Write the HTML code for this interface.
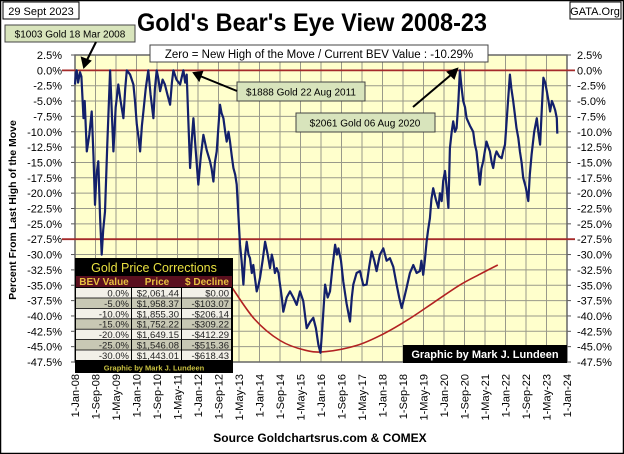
<!DOCTYPE html>
<html><head><meta charset="utf-8"><style>
html,body{margin:0;padding:0;background:#fff;}
svg{display:block;font-family:"Liberation Sans",sans-serif;}
</style></head><body>
<svg id="chart" width="624" height="454" viewBox="0 0 624 454">
<rect x="0.5" y="0.5" width="623" height="453" fill="#fff" stroke="#000" stroke-width="1.5"/>
<g id="plot"></g>
<text x="312" y="31" text-anchor="middle" font-size="25" font-weight="bold" fill="#000" textLength="350" lengthAdjust="spacingAndGlyphs">Gold's Bear's Eye View 2008-23</text>
<rect x="3" y="2" width="76" height="17" fill="#fff" stroke="#000"/>
<text x="41" y="15" text-anchor="middle" font-size="11">29 Sept 2023</text>
<rect x="570" y="2" width="51" height="17" fill="#fff" stroke="#000"/>
<text x="595" y="15" text-anchor="middle" font-size="11">GATA.Org</text>
<rect x="5" y="25" width="130" height="17" fill="#d8e4bc" stroke="#444"/>
<text x="70" y="37.5" text-anchor="middle" font-size="10">$1003 Gold 18 Mar 2008</text>
<rect x="150" y="45" width="338" height="17" fill="#fff" stroke="#444"/>
<text x="319" y="58" text-anchor="middle" font-size="11.5">Zero = New High of the Move / Current  BEV Value : -10.29%</text>
<rect x="237" y="82" width="128" height="19" fill="#d8e4bc" stroke="#444"/>
<text x="301" y="95.5" text-anchor="middle" font-size="10">$1888 Gold 22 Aug 2011</text>
<rect x="296" y="113" width="139" height="19" fill="#d8e4bc" stroke="#444"/>
<text x="365" y="126.5" text-anchor="middle" font-size="10">$2061 Gold 06 Aug 2020</text>
<g stroke="#000" stroke-width="2" fill="#000">
<line x1="96" y1="42" x2="86" y2="62"/><polygon points="84,67 82,58 90,61"/>
<line x1="237" y1="91" x2="200" y2="76"/><polygon points="194,73 202,72 199,80"/>
<line x1="413" y1="107" x2="452" y2="74"/><polygon points="457,69 454,78 448,72"/>
</g>
<text transform="translate(16,210) rotate(-90)" text-anchor="middle" font-size="10.5" font-weight="bold">Percent  From Last High of the Move</text>
<g id="table"></g>
<rect x="403" y="345" width="164" height="18" fill="#000"/>
<text x="485" y="358" text-anchor="middle" font-size="11" font-weight="bold" fill="#fff">Graphic by Mark J. Lundeen</text>
<text x="320" y="442" text-anchor="middle" font-size="12" font-weight="bold">Source Goldchartsrus.com &amp; COMEX</text>
</svg>
<script>
const months=[0,0.3,0.65,1.2,1.95,2.5,3.3,3.8,4.6,5.6,6.5,7.2,7.8,8.4,9.1,9.8,10.4,11,11.7,12.6,13.7,14.3,15,15.9,16.9,17.8,18.9,19.6,20.2,21.5,22.8,23.4,24.1,24.8,25.4,26.1,26.7,27.6,28.6,29.5,30.6,31.2,31.9,32.6,33.2,34.2,35.1,36.1,37.1,37.8,38.4,39.6,41,41.7,42.3,43,43.6,44.2,44.9,45.6,46.2,47.1,48.1,49.1,50.1,51.4,52.7,53.3,54,54.6,55.3,56,56.6,57.2,57.9,58.6,59.2,59.9,60.5,61.2,61.8,62.5,63.1,63.7,64.4,65,65.7,66.4,67,67.7,68.3,69,69.6,70.3,70.9,71.6,72.2,73.2,74.2,75.2,76.1,76.8,77.4,78,78.7,79.4,80,80.7,81.3,82.6,83.9,85.2,86.5,87.8,89.1,89.8,90.4,91.7,93,94,95,95.8,96.5,97.6,98.6,99.5,100.5,101.5,102.2,102.8,103.8,104.7,106,107.3,108,108.6,109.9,111.2,112.5,113.8,114.8,115.8,116.8,117.7,119,120.3,121.6,122.9,124.2,125.5,126.5,127.5,128.5,129.4,130.7,132,133.3,134.6,135.2,135.9,136.5,137.2,137.8,138.5,139.1,139.8,140.8,141.8,142.4,143.1,143.7,144.4,145,145.7,146.3,147,147.6,148.3,148.9,149.6,150.2,150.9,151.5,152.2,152.8,154.1,155.4,156,156.7,157.4,158,158.6,159.3,160,160.6,161.3,161.9,162.6,163.2,163.9,164.5,165.5,166.5,167.2,167.8,168.8,169.7,170.3,171,171.6,172.3,173,173.6,174.3,174.9,175.9,176.9,177.5,178.2,179.2,180.2,180.8,181.5,182.2,182.8,183.5,184.1,184.8,185.4,186.1,186.7,187.4,188,188.2];
const bev=[-2.3,-0.5,0,-2,-0.3,-1,-7.8,-5,-13.2,-10.5,-6.7,-14,-21.9,-17,-14.8,-24,-30,-26,-23,-12,0,-6,-13.2,-6,-2.3,-5,-7.8,-3,0,-0.7,-2.3,-5,-8.8,-11,-13.2,-9,-6.7,-3,0,-4,-7.8,-3,0,-1.5,-3.4,-1.5,-2.3,-4,-5.6,-2,0,-1.5,-2.3,-1,0,-2,-0.7,-8,-15.9,-11,-7.8,-13,-18.6,-14,-10.5,-13,-14.8,-16,-18.1,-15,-13.2,-9,-5.6,-7,-7.8,-10,-11.6,-10,-11.6,-14,-15.9,-17,-18.6,-23,-28.4,-31,-34.9,-30,-27.9,-30,-30.6,-33,-31.7,-34,-36,-35,-33.8,-31,-27.9,-30,-32.2,-30,-31.1,-33,-32.2,-33,-34.9,-37,-39.3,-37,-36,-37,-38.2,-36,-37.6,-40,-42,-41,-40.3,-42,-44.7,-46,-42,-34.9,-37,-36,-32,-28.4,-30,-29,-31,-34.4,-38,-40.9,-37,-34.9,-33,-32.7,-35,-34.9,-32,-29.5,-31,-32.7,-30,-29,-31,-30.6,-32,-34.9,-37,-38.7,-37,-35.4,-33,-31.7,-33,-32.7,-31,-33.3,-31,-27.9,-26,-24.1,-21,-19.2,-21,-22.4,-20,-21.3,-18,-16.4,-19,-22.4,-12.7,-10,-8.3,-10,-9.4,-5,0,-3,-5,-6,-7.8,-9,-10,-12,-13.2,-16,-18.6,-16,-14.8,-13,-11.6,-12.5,-13.2,-15,-15.9,-14,-13.2,-14,-14.3,-13,-12.1,-6,-0.7,-3,-5,-7,-9.4,-11,-13.2,-15,-17.5,-19,-21.3,-17,-13.7,-10,-7.8,-10,-12.1,-6,-1.2,-2,-3.4,-5,-6.7,-5,-5.6,-6.5,-7.8,-10.3];
const curveMonths=[61,70,80,90,98,110,120,130,140,150,158,165];
const curveValues=[-35.2,-40.5,-44,-45.6,-45.8,-44.8,-43,-40.6,-37.8,-35,-33.2,-31.7];
const yTicks=[2.5,0,-2.5,-5,-7.5,-10,-12.5,-15,-17.5,-20,-22.5,-25,-27.5,-30,-32.5,-35,-37.5,-40,-42.5,-45,-47.5];
const xTickLabels=["1-Jan-08","1-Sep-08","1-May-09","1-Jan-10","1-Sep-10","1-May-11","1-Jan-12","1-Sep-12","1-May-13","1-Jan-14","1-Sep-14","1-May-15","1-Jan-16","1-Sep-16","1-May-17","1-Jan-18","1-Sep-18","1-May-19","1-Jan-20","1-Sep-20","1-May-21","1-Jan-22","1-Sep-22","1-May-23","1-Jan-24"];
const refLines=[0,-27.5];
const tblHead=["BEV Value","Price","$ Decline"];
const tblBev=["0.0%","-5.0%","-10.0%","-15.0%","-20.0%","-25.0%","-30.0%"];
const tblPrice=["$2,061.44","$1,958.37","$1,855.30","$1,752.22","$1,649.15","$1,546.08","$1,443.01"];
const tblDecl=["$0.00","-$103.07","-$206.14","-$309.22","-$412.29","-$515.36","-$618.43"];

const NS="http://www.w3.org/2000/svg";
const L=75,R=567,T=55,B=362,MAXM=192;
const xs=m=>L+m/MAXM*(R-L);
const ys=p=>T+(2.5-p)/50*(B-T);
function mk(tag,attrs,parent,txt){const e=document.createElementNS(NS,tag);for(const k in attrs)e.setAttribute(k,attrs[k]);if(txt!==undefined)e.textContent=txt;parent.appendChild(e);return e;}
const plot=document.getElementById('plot');
let bg=mk('rect',{x:L,y:T,width:R-L,height:B-T,fill:'#ffffcc'},plot);


yTicks.forEach(v=>{
  const y=ys(v);
  let g=mk('line',{x1:L,x2:R,y1:y,y2:y,stroke:'#9a9a8a','stroke-width':1},plot);
  
  
  let t1=mk('text',{x:62,y:y+4,'text-anchor':'end','font-size':11},plot,v.toFixed(1)+'%');
  
  
  let t2=mk('text',{x:577,y:y+4,'font-size':11},plot,v.toFixed(1)+'%');
  
  
  mk('line',{x1:L-4,x2:L,y1:y,y2:y,stroke:'#555'},plot);
  mk('line',{x1:R,x2:R+4,y1:y,y2:y,stroke:'#555'},plot);
});
xTickLabels.forEach((lab,i)=>{
  const x=xs(i*8);
  let g=mk('line',{x1:x,x2:x,y1:T,y2:B,stroke:'#9a9a8a','stroke-width':1},plot);
  
  
  let t=mk('text',{transform:`translate(${x+4},374) rotate(-90)`,'text-anchor':'end','font-size':11},plot,lab);
  
  
});
let fr=mk('rect',{x:L,y:T,width:R-L,height:B-T,fill:'none',stroke:'#666','stroke-width':1.5},plot);


refLines.forEach(v=>{
  let l=mk('line',{x1:62,x2:575,y1:ys(v),y2:ys(v),stroke:'#a52a2a','stroke-width':1.8},plot);
  
  
});
// smooth curve (Catmull-Rom)
const cpts=curveMonths.map((m,i)=>[xs(m),ys(curveValues[i])]);
let cp='M'+cpts[0][0].toFixed(1)+','+cpts[0][1].toFixed(1);
for(let i=0;i<cpts.length-1;i++){
  const p0=cpts[Math.max(0,i-1)],p1=cpts[i],p2=cpts[i+1],p3=cpts[Math.min(cpts.length-1,i+2)];
  const c1=[p1[0]+(p2[0]-p0[0])/6,p1[1]+(p2[1]-p0[1])/6];
  const c2=[p2[0]-(p3[0]-p1[0])/6,p2[1]-(p3[1]-p1[1])/6];
  cp+=` C${c1[0].toFixed(1)},${c1[1].toFixed(1)} ${c2[0].toFixed(1)},${c2[1].toFixed(1)} ${p2[0].toFixed(1)},${p2[1].toFixed(1)}`;
}
let cv=mk('path',{d:cp,fill:'none',stroke:'#b22222','stroke-width':1.6},plot);


let lp=months.map((m,i)=>(i?'L':'M')+xs(m).toFixed(1)+','+ys(bev[i]).toFixed(1)).join(' ');
let ln=mk('path',{d:lp,fill:'none',stroke:'#13206b','stroke-width':2.2,'stroke-linejoin':'round'},plot);



const tb=document.getElementById('table');
mk('rect',{x:75,y:258,width:158,height:115,fill:'#000'},tb);
let tt=mk('text',{x:154,y:272,'text-anchor':'middle','font-size':12.5,fill:'#e8e040'},tb,'Gold Price Corrections');


const colX=[76,132,182],colW=[56,50,50];
tblHead.forEach((h,i)=>{
  mk('rect',{x:colX[i],y:276,width:colW[i],height:11,fill:'#5a0f1e'},tb);
  let t=mk('text',{x:colX[i]+colW[i]/2,y:285,'text-anchor':'middle','font-size':10,'font-weight':'bold',fill:'#e8c040'},tb,h);
  
  
});
tblBev.forEach((b,r)=>{
  const y=288+r*10.4;
  const fill=r%2?'#c8c8b4':'#f2f0e8';
  [b,tblPrice[r],tblDecl[r]].forEach((v,i)=>{
    mk('rect',{x:colX[i],y:y,width:colW[i]-1,height:9.6,fill:fill},tb);
    let t=mk('text',{x:colX[i]+colW[i]-3,y:y+8.5,'text-anchor':'end','font-size':9.5,fill:'#222'},tb,v);
    
    
  });
});
let tc=mk('text',{x:154,y:370.5,'text-anchor':'middle','font-size':7.5,'font-weight':'bold',fill:'#c8c040'},tb,'Graphic by Mark J. Lundeen');


</script>
</body></html>
